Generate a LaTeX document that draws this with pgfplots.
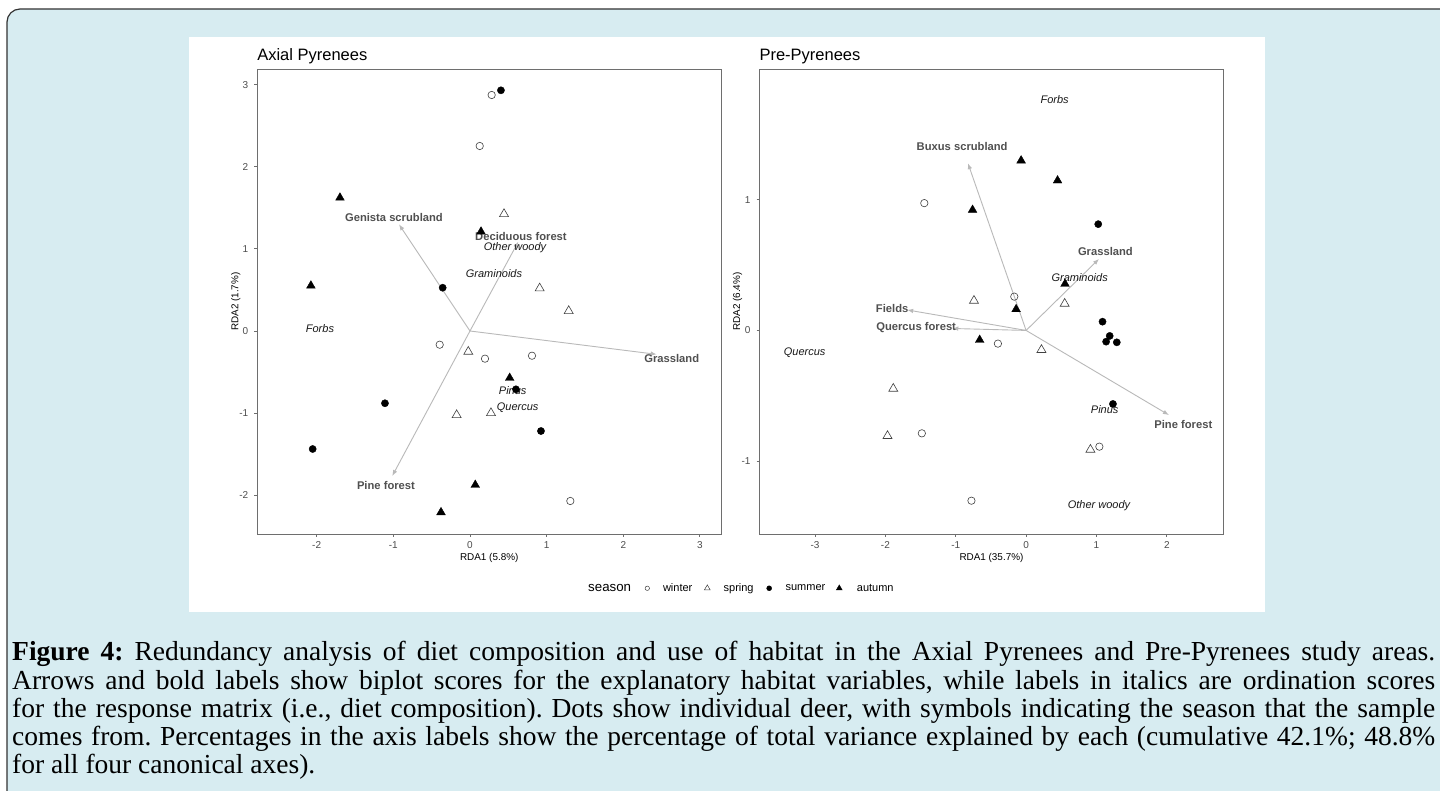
\documentclass[border=0pt]{standalone}
\usepackage{fontspec}
\setmainfont{Liberation Serif}
\newfontfamily\arial{Liberation Sans}
\usepackage{pgfplots}
\pgfplotsset{compat=1.18}
\usetikzlibrary{arrows.meta}
\definecolor{bgblue}{RGB}{215,236,241}
\definecolor{framecol}{RGB}{51,51,51}
\definecolor{axcol}{RGB}{110,110,110}
\definecolor{ticklab}{RGB}{77,77,77}
\definecolor{arrcol}{RGB}{185,185,185}
\definecolor{boldlab}{RGB}{80,80,80}
\tikzset{
  openpt/.style={draw=black!75, line width=0.6pt},
  arr/.style={draw=arrcol, line width=0.9pt, -{Latex[length=6pt,width=4.5pt]}},
  bl/.style={font=\arial\bfseries\fontsize{11.2}{13}\selectfont, text=boldlab, anchor=center, text height=0.72em, text depth=0pt, inner sep=0pt},
  il/.style={font=\arial\itshape\fontsize{11}{13}\selectfont, text=black!90, anchor=center, text height=0.72em, text depth=0pt, inner sep=0pt},
}
\pgfplotsset{rda/.style={
  scale only axis, width=464.3pt, height=464.7pt, anchor=south west,
  axis line style={axcol, line width=0.9pt},
  tick align=outside, tick pos=left, major tick length=2.8pt,
  tick style={axcol, line width=0.9pt},
  /pgf/number format/assume math mode=true,
  tick label style={font=\arial\fontsize{10}{12}\selectfont, text=ticklab, inner sep=0pt},
  xticklabel style={anchor=base, yshift=-11.5pt},
  yticklabel style={anchor=east, xshift=-5.8pt},
  label style={font=\arial\fontsize{9.9}{12}\selectfont, text=black, inner sep=0pt},
  xlabel style={at={(axis description cs:0.5,-0.056)}, anchor=base},
  every axis title shift=0pt,
  title style={font=\arial\fontsize{16.5}{19}\selectfont, anchor=base west, at={(axis description cs:0,1.0179)}, inner sep=0pt},
  clip=false,
}}
\begin{document}
\begin{tikzpicture}[x=1pt,y=1pt]
\useasboundingbox (0,0) rectangle (1440,790);
\clip (0,0) rectangle (1440,790);
\path[fill=bgblue, draw=framecol, line width=1.2pt, rounded corners=13pt] (7,-20) rectangle (1460,781);
\fill[white] (189.3,178.3) rectangle (1265,753.3);

% ---------------- Axial Pyrenees ----------------
\begin{axis}[rda, at={(257.1pt,256pt)},
  xmin=-2.777, xmax=3.280, ymin=-2.472, ymax=3.187,
  xtick={-2,-1,0,1,2,3},
  ytick={-2,-1,0,1,2,3},
  xlabel={RDA1 (5.8\%)}, ylabel={RDA2 (1.7\%)},
  ylabel style={at={(axis description cs:-0.0461,0.5)}, anchor=center},
  title={Axial Pyrenees},
  legend image code/.code={\draw[#1] plot coordinates {(0pt,0pt)};},
  legend style={at={(axis description cs:0.7127,-0.1168)}, anchor=west, draw=none, fill=none,
    inner sep=0pt, legend columns=-1, column sep=0pt,
    /tikz/every even column/.style={column sep=0pt},
    /tikz/every odd column/.style={column sep=0pt},
    nodes={inner sep=0pt, text=black, font=\arial\fontsize{11}{13}\selectfont}},
  legend cell align=left,
]
% arrows (biplot scores)
\addplot[arr, forget plot] coordinates {(0,0) (-0.926,1.299)};
\addplot[arr, forget plot] coordinates {(0,0) (0.630,1.087)};
\addplot[arr, forget plot] coordinates {(0,0) (2.436,-0.284)};
\addplot[arr, forget plot] coordinates {(0,0) (-1.014,-1.766)};
% winter
\addplot[forget plot, only marks, mark=o, mark size=3.7pt, openpt] coordinates {
(0.283,2.874) (0.127,2.253) (-0.395,-0.167) (0.196,-0.337) (0.809,-0.301) (1.309,-2.070)};
% spring
\addplot[forget plot, only marks, mark=triangle, mark size=5.2pt, openpt] coordinates {
(0.444,1.425) (0.909,0.520) (1.288,0.244) (-0.022,-0.252) (-0.174,-1.023) (0.274,-0.999)};
% summer
\addplot[forget plot, only marks, mark=*, mark size=3.6pt, black] coordinates {
(0.404,2.931) (-0.356,0.527) (0.600,-0.710) (-1.109,-0.880) (-2.052,-1.437) (0.926,-1.218)};
% autumn
\addplot[forget plot, only marks, mark=triangle*, mark size=5.0pt, black] coordinates {
(-1.696,1.623) (0.144,1.209) (-2.075,0.552) (0.518,-0.572) (0.069,-1.875) (-0.378,-2.208)};
% labels
\node[bl] at (axis cs:-0.992,1.372) {Genista scrubland};
\node[bl] at (axis cs:0.665,1.148) {Deciduous forest};
\node[bl] at (axis cs:2.632,-0.341) {Grassland};
\node[bl] at (axis cs:-1.096,-1.884) {Pine forest};
\node[il] at (axis cs:0.587,1.019) {Other woody};
\node[il] at (axis cs:0.313,0.690) {Graminoids};
\node[il] at (axis cs:-1.957,0.021) {Forbs};
\node[il] at (axis cs:0.557,-0.731) {Pinus};
\node[il] at (axis cs:0.622,-0.929) {Quercus};
% legend
\addlegendimage{empty legend}
\addlegendentry{\fontsize{13.3}{15}\selectfont season\hspace{14pt}\null}
\addlegendimage{mark=o, mark size=2.2pt, draw=black!75, line width=0.5pt}
\addlegendentry{\hspace{13.5pt}winter\hspace{12pt}\null}
\addlegendimage{mark=triangle, mark size=3.4pt, draw=black!75, line width=0.5pt}
\addlegendentry{\hspace{13.4pt}spring\hspace{13.1pt}\null}
\addlegendimage{mark=*, mark size=2.5pt, black}
\addlegendentry{\hspace{13.9pt}summer\hspace{11pt}\null}
\addlegendimage{mark=triangle*, mark size=3.4pt, black}
\addlegendentry{\hspace{14.7pt}autumn}
\end{axis}

% ---------------- Pre-Pyrenees ----------------
\begin{axis}[rda, at={(759.3pt,256pt)},
  xmin=-3.792, xmax=2.807, ymin=-1.559, ymax=2.0,
  xtick={-3,-2,-1,0,1,2},
  ytick={-1,0,1},
  xlabel={RDA1 (35.7\%)}, ylabel={RDA2 (6.4\%)},
  ylabel style={at={(axis description cs:-0.047,0.5)}, anchor=center},
  title={Pre-Pyrenees},
]
\addplot[arr] coordinates {(0,0) (-0.827,1.281)};
\addplot[arr] coordinates {(0,0) (1.036,0.548)};
\addplot[arr] coordinates {(0,0) (-1.690,0.157)};
\addplot[arr] coordinates {(0,0) (-1.05,0.015)};
\addplot[arr] coordinates {(0,0) (2.030,-0.648)};
% winter
\addplot[only marks, mark=o, mark size=3.7pt, openpt] coordinates {
(-1.447,0.975) (-0.168,0.259) (-0.401,-0.101) (-1.482,-0.788) (1.041,-0.890) (-0.777,-1.304)};
% spring
\addplot[only marks, mark=triangle, mark size=5.2pt, openpt] coordinates {
(-0.741,0.228) (0.548,0.205) (0.218,-0.149) (-1.888,-0.446) (-1.970,-0.808) (0.914,-0.913)};
% summer
\addplot[only marks, mark=*, mark size=3.6pt, black] coordinates {
(1.025,0.814) (1.086,0.067) (1.188,-0.042) (1.137,-0.086) (1.289,-0.091) (1.234,-0.563)};
% autumn
\addplot[only marks, mark=triangle*, mark size=5.0pt, black] coordinates {
(-0.071,1.301) (0.447,1.148) (-0.761,0.923) (0.553,0.356) (-0.142,0.162) (-0.660,-0.073)};
\node[bl] at (axis cs:-0.909,1.406) {Buxus scrubland};
\node[bl] at (axis cs:1.127,0.599) {Grassland};
\node[bl] at (axis cs:-1.904,0.165) {Fields};
\node[bl] at (axis cs:-1.563,0.024) {Quercus forest};
\node[bl] at (axis cs:2.234,-0.724) {Pine forest};
\node[il] at (axis cs:0.406,1.766) {Forbs};
\node[il] at (axis cs:0.761,0.405) {Graminoids};
\node[il] at (axis cs:-3.147,-0.162) {Quercus};
\node[il] at (axis cs:1.117,-0.609) {Pinus};
\node[il] at (axis cs:1.036,-1.337) {Other woody};
\end{axis}

% ---------------- caption ----------------
\node[anchor=base west, inner sep=0pt] at (12,129) {\parbox[t]{1423pt}{\fontsize{27.5}{28.25}\selectfont
\hyphenpenalty=10000 \exhyphenpenalty=10000 \tolerance=10000 \frenchspacing
\textbf{Figure 4:} Redundancy analysis of diet composition and use of habitat in the Axial Pyrenees and Pre-Pyrenees study areas.\linebreak
Arrows and bold labels show biplot scores for the explanatory habitat variables, while labels in italics are ordination scores\linebreak
for the response matrix (i.e., diet composition). Dots show individual deer, with symbols indicating the season that the sample\linebreak
comes from. Percentages in the axis labels show the percentage of total variance explained by each (cumulative 42.1\%; 48.8\%\linebreak
for all four canonical axes).}};
\end{tikzpicture}
\end{document}
